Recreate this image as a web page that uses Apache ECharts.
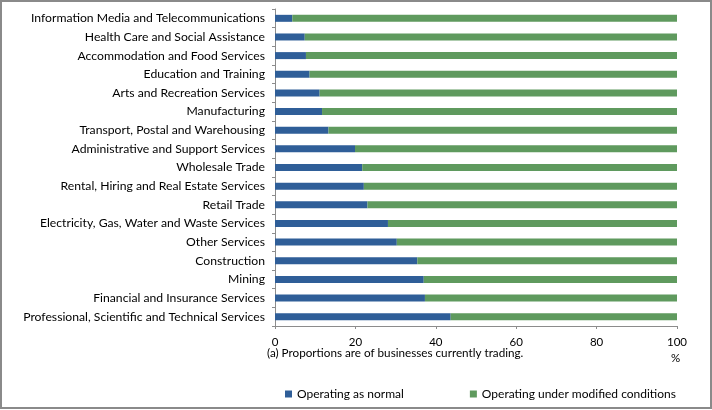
<!DOCTYPE html>
<html>
<head>
<meta charset="utf-8">
<script src="https://cdn.jsdelivr.net/npm/echarts@6/dist/echarts.min.js"></script>
<style>
  html, body { margin: 0; padding: 0; background: #fff; }
  #frame { position: absolute; left: 0; top: 0; width: 708px; height: 405px; border: 2px solid #8a8a8a; }
  #chart { position: absolute; left: 0; top: 0; width: 712px; height: 410px; }
</style>
</head>
<body>
<div id="frame"></div>
<div id="chart"></div>
<script>
// industries, top to bottom
var categories = [
  'Information Media and Telecommunications',
  'Health Care and Social Assistance',
  'Accommodation and Food Services',
  'Education and Training',
  'Arts and Recreation Services',
  'Manufacturing',
  'Transport, Postal and Warehousing',
  'Administrative and Support Services',
  'Wholesale Trade',
  'Rental, Hiring and Real Estate Services',
  'Retail Trade',
  'Electricity, Gas, Water and Waste Services',
  'Other Services',
  'Construction',
  'Mining',
  'Financial and Insurance Services',
  'Professional, Scientific and Technical Services'
];
var normal = [4.3, 7.4, 7.7, 8.6, 11.1, 11.7, 13.3, 19.9, 21.7, 22.1, 23.0, 28.1, 30.3, 35.4, 37.0, 37.3, 43.7];
var modified = [95.7, 92.6, 92.3, 91.4, 88.9, 88.3, 86.7, 80.1, 78.3, 77.9, 77.0, 71.9, 69.7, 64.6, 63.0, 62.7, 56.3];
var xTicks = [0, 20, 40, 60, 80, 100];

var font = 'Lato, "Open Sans", sans-serif';
var chart = echarts.init(document.getElementById('chart'));

var option = {
  animation: false,
  textStyle: { fontFamily: font },
  grid: { left: 275, right: 35, top: 9, bottom: 84 },
  legend: {
    data: ['Operating as normal', 'Operating under modified conditions'],
    left: 280,
    top: 383,
    icon: 'rect',
    itemWidth: 7,
    itemHeight: 7,
    itemGap: 66,
    textStyle: { fontSize: 12, color: '#000', fontFamily: font }
  },
  xAxis: {
    type: 'value',
    min: xTicks[0],
    max: xTicks[xTicks.length - 1],
    interval: 20,
    splitLine: { show: false },
    axisLine: { show: true, lineStyle: { color: '#8c8c8c' } },
    axisTick: { show: true, length: 3, lineStyle: { color: '#8c8c8c' } },
    axisLabel: { color: '#000', fontSize: 11.5, margin: 10 }
  },
  yAxis: {
    type: 'category',
    inverse: true,
    data: categories,
    axisLine: { show: true, lineStyle: { color: '#8c8c8c' } },
    axisTick: { show: true, length: 3, lineStyle: { color: '#8c8c8c' } },
    axisLabel: { color: '#000', fontSize: 12.2, margin: 10 }
  },
  series: [
    {
      name: 'Operating as normal',
      type: 'bar',
      stack: 'all',
      data: normal,
      barWidth: 7,
      itemStyle: { color: '#2f5e98' }
    },
    {
      name: 'Operating under modified conditions',
      type: 'bar',
      stack: 'all',
      data: modified,
      barWidth: 7,
      itemStyle: { color: '#5f9a5e' }
    }
  ],
  graphic: [
    {
      type: 'text',
      left: 267,
      top: 347,
      style: { text: '(a) Proportions are of businesses currently trading.', fontSize: 11.7, fill: '#000', fontFamily: font }
    },
    {
      type: 'text',
      left: 671,
      top: 352,
      style: { text: '%', fontSize: 11.5, fill: '#000', fontFamily: font }
    }
  ]
};
chart.setOption(option);
</script>
</body>
</html>
